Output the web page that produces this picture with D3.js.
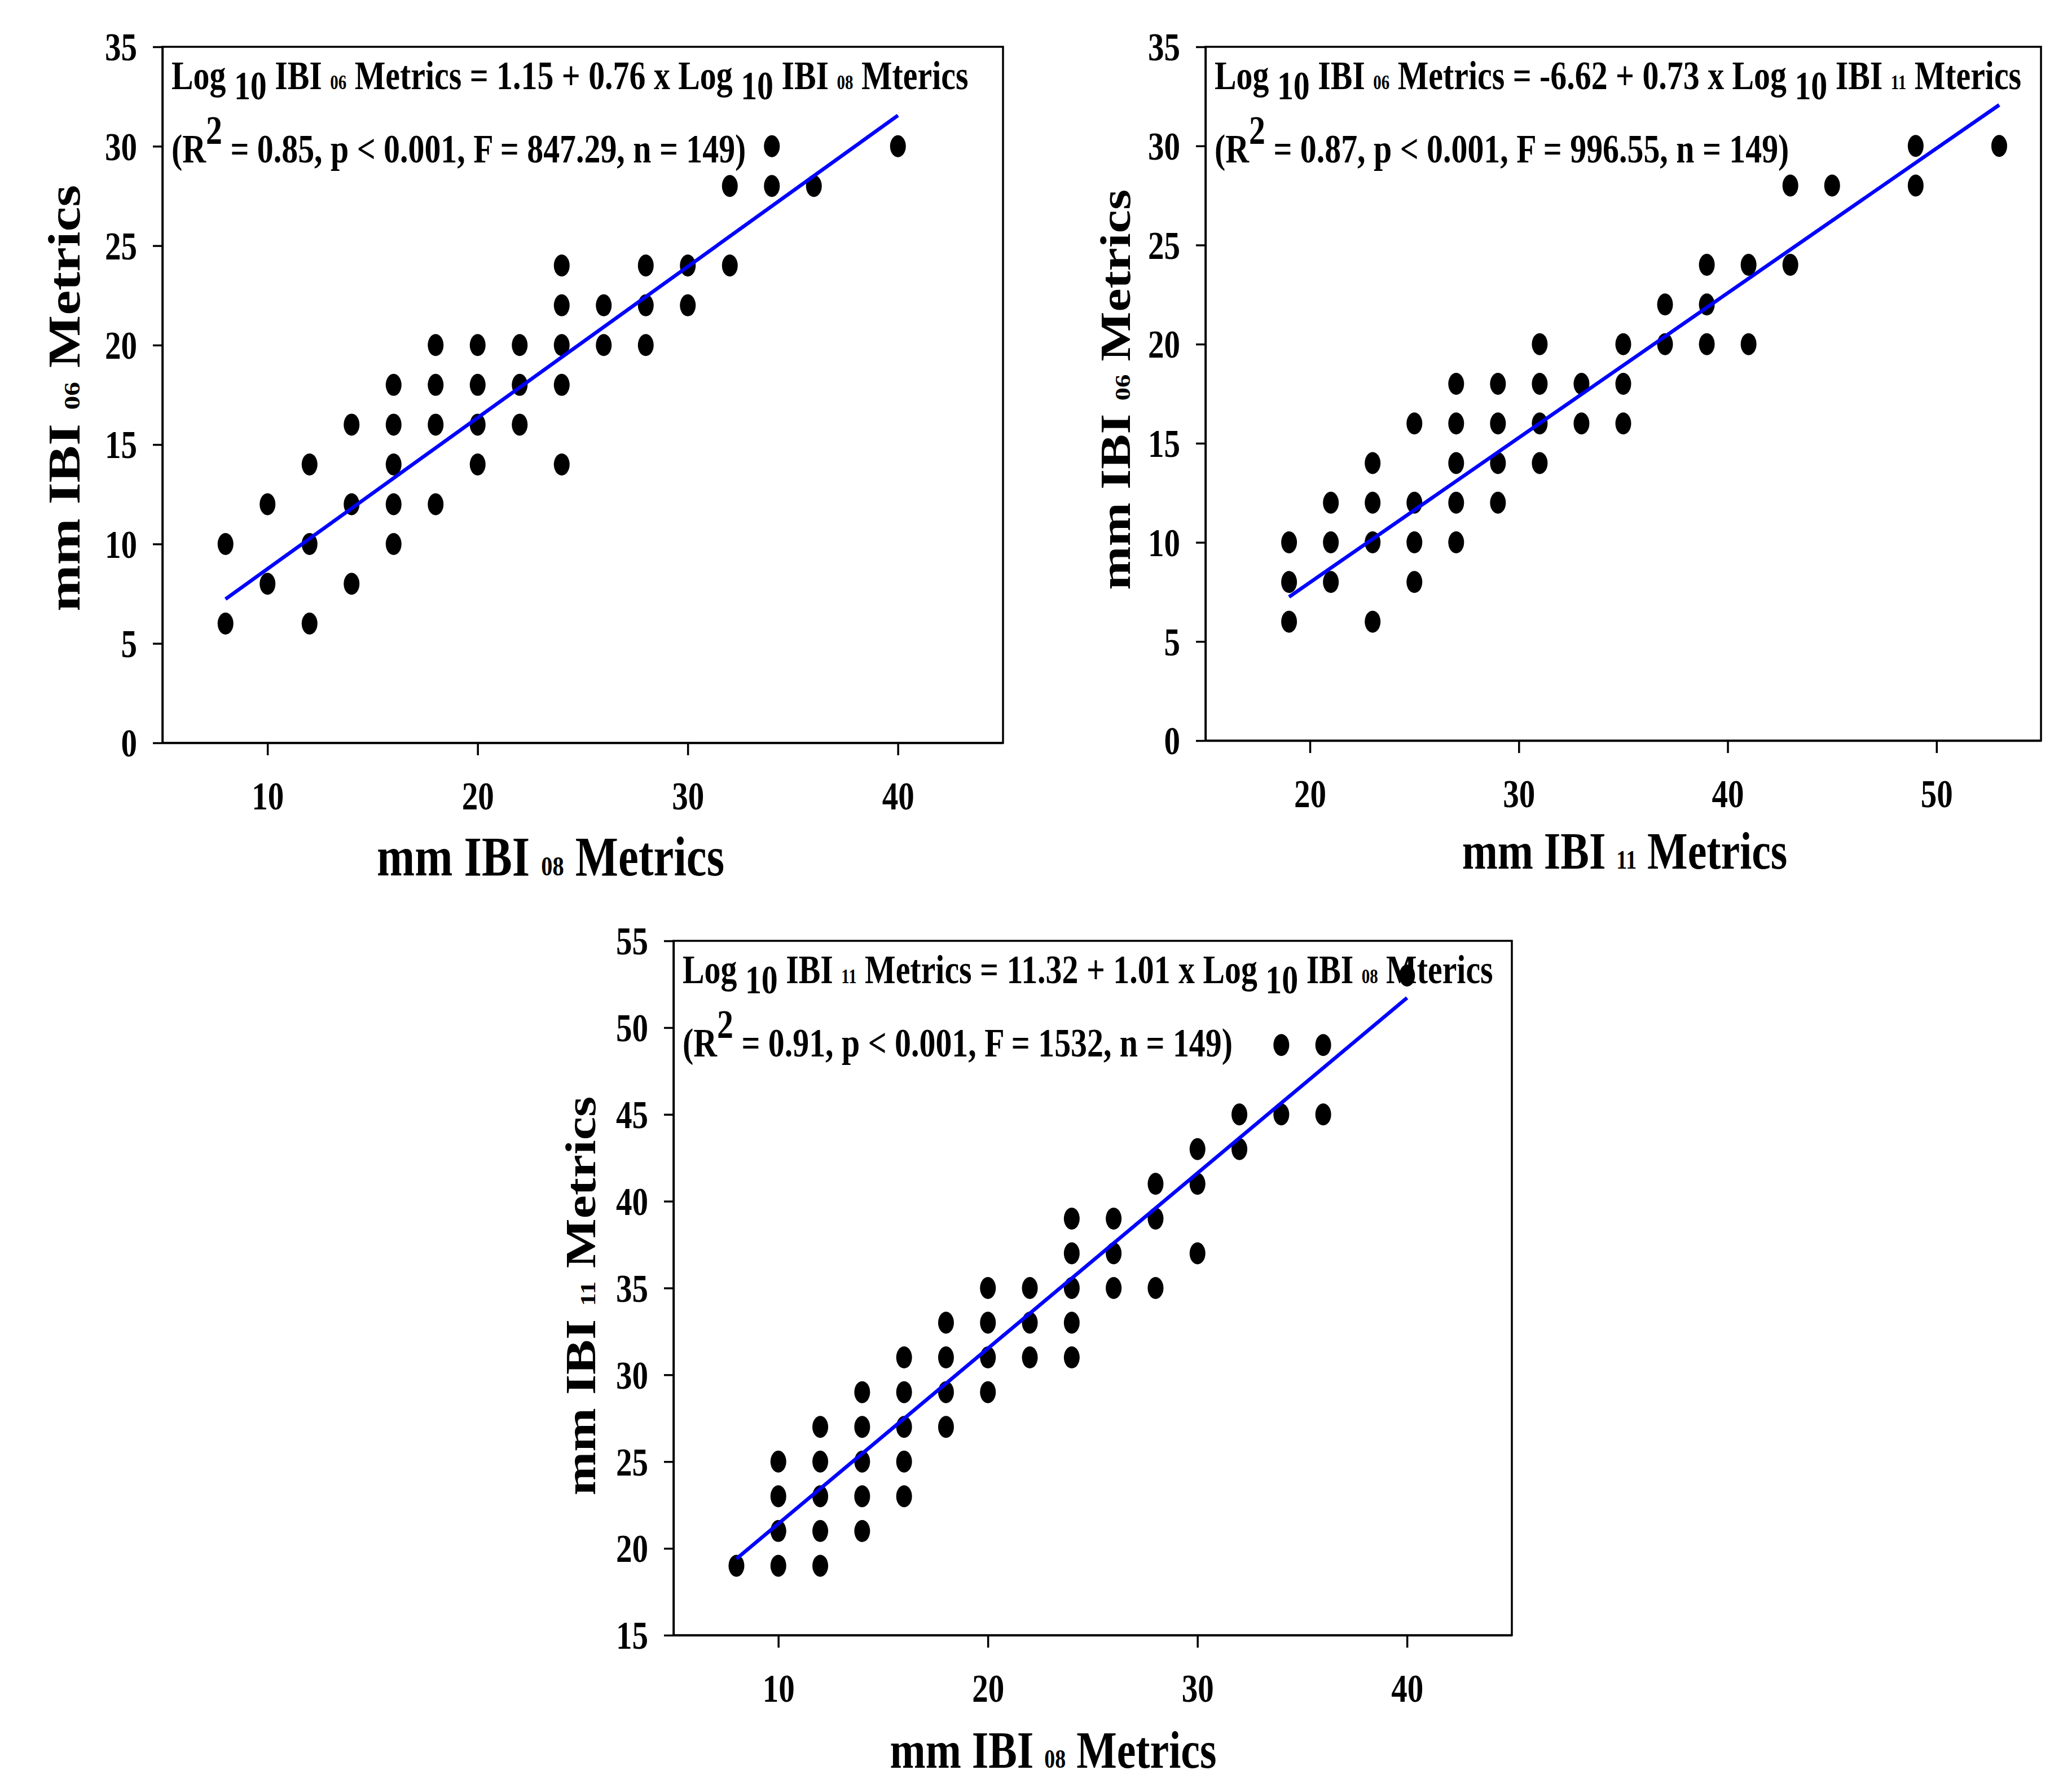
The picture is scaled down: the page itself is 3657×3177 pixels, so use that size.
<!DOCTYPE html>
<html>
<head>
<meta charset="utf-8">
<script src="https://cdn.jsdelivr.net/npm/d3@7"></script>
<style>
  html, body { margin: 0; padding: 0; background: #ffffff; }
  svg text { font-family: "Liberation Serif", "Times New Roman", serif; font-weight: bold; fill: #000; white-space: pre; }
</style>
</head>
<body>
<svg id="chart" width="3657" height="3177"></svg>
<script>
// ---------------- DATA ----------------
// Panel A: mm IBI 08 (x) vs mm IBI 06 (y)
const panelA_x08 = [8,8,10,10,12,12,12,14,14,14,16,16,16,16,16,18,18,18,18,20,20,20,20,22,22,22,24,24,24,24,24,26,26,28,28,28,30,30,32,32,34,34,36,40];
const panelA_y06 = [10,6,12,8,14,10,6,16,12,8,18,16,14,12,10,20,18,16,12,20,18,16,14,20,18,16,24,22,20,18,14,22,20,24,22,20,24,22,28,24,30,28,28,30];
// Panel B: mm IBI 11 (x) vs mm IBI 06 (y)
const panelB_x11 = [19,19,19,21,21,21,23,23,23,23,25,25,25,25,27,27,27,27,27,29,29,29,29,31,31,31,31,33,33,35,35,35,37,37,39,39,39,41,41,43,43,45,49,49,53];
const panelB_y06 = [10,8,6,12,10,8,14,12,10,6,16,12,10,8,18,16,14,12,10,18,16,14,12,20,18,16,14,18,16,20,18,16,22,20,24,22,20,24,20,28,24,28,30,28,30];
// Panel C: mm IBI 08 (x) vs mm IBI 11 (y)
const panelC_x08 = [8,10,10,10,10,12,12,12,12,12,14,14,14,14,14,16,16,16,16,16,18,18,18,18,20,20,20,20,22,22,22,24,24,24,24,24,26,26,26,28,28,28,30,30,30,32,32,34,34,36,36,40];
const panelC_y11 = [19,25,23,21,19,27,25,23,21,19,29,27,25,23,21,31,29,27,25,23,33,31,29,27,35,33,31,29,35,33,31,39,37,35,33,31,39,37,35,41,39,35,43,41,37,45,43,49,45,49,45,53];

// regression: intercept, slope, fitted x-range
const fitIntercepts = [1.15, -6.62, 11.32];
const fitSlopes = [0.76, 0.73, 1.01];
const fitRanges = [[8, 40], [19, 53], [8, 40]];

// axes
const xDomains = [[5, 45], [15, 55], [5, 45]];
const yDomains = [[0, 35], [0, 35], [15, 55]];
const xTickValues = [[10, 20, 30, 40], [20, 30, 40, 50], [10, 20, 30, 40]];
const yTickValues = [[0,5,10,15,20,25,30,35], [0,5,10,15,20,25,30,35], [15,20,25,30,35,40,45,50,55]];

// labels
const xTitles = [["mm IBI ", "08", " Metrics"], ["mm IBI ", "11", " Metrics"], ["mm IBI ", "08", " Metrics"]];
const yTitles = [["mm IBI ", "06", " Metrics"], ["mm IBI ", "06", " Metrics"], ["mm IBI ", "11", " Metrics"]];
const eqLine1 = [
  [["Log ","n"],["10","sub"],[" IBI ","n"],["06","sm"],[" Metrics = 1.15 + 0.76 x Log ","n"],["10","sub"],[" IBI ","n"],["08","sm"],[" Mterics","n"]],
  [["Log ","n"],["10","sub"],[" IBI ","n"],["06","sm"],[" Metrics = -6.62 + 0.73 x Log ","n"],["10","sub"],[" IBI ","n"],["11","sm"],[" Mterics","n"]],
  [["Log ","n"],["10","sub"],[" IBI ","n"],["11","sm"],[" Metrics = 11.32 + 1.01 x Log ","n"],["10","sub"],[" IBI ","n"],["08","sm"],[" Mterics","n"]]
];
const eqLine2 = [
  [["(R","n"],["2","sup"],[" = 0.85, p < 0.001, F = 847.29, n = 149)","n"]],
  [["(R","n"],["2","sup"],[" = 0.87, p < 0.001, F = 996.55, n = 149)","n"]],
  [["(R","n"],["2","sup"],[" = 0.91, p < 0.001, F = 1532, n = 149)","n"]]
];

const panelXs = [panelA_x08, panelB_x11, panelC_x08];
const panelYs = [panelA_y06, panelB_y06, panelC_y11];

// ---------------- LAYOUT (pixels) ----------------
const K = 0.815; // horizontal condensation of the original figure
const layouts = [
  {left: 288,  right: 1778, top: 83,   bottom: 1317, xtX: 976,  xtY: 1552, ytOff: 147, ytDy: 6,  titleSize: 99},
  {left: 2137, right: 3618, top: 83,   bottom: 1313, xtX: 2880, xtY: 1540, ytOff: 134, ytDy: -7, titleSize: 93},
  {left: 1194, right: 2680, top: 1668, bottom: 2899, xtX: 1867, xtY: 3134, ytOff: 139, ytDy: 14, titleSize: 93}
];

const svg = d3.select("#chart");
svg.append("rect").attr("width", 3657).attr("height", 3177).attr("fill", "#fff");
const root = svg.append("g").attr("transform", `scale(${K},1)`);
const u = v => v / K;

const TICK_FS = 70, EQ_FS = 71;

function writeSegments(textSel, segs, fs) {
  let shift = 0;
  segs.forEach(([t, kind]) => {
    const ts = textSel.append("tspan").text(t);
    let target = 0, size = fs;
    if (kind === "sub") target = 18;
    else if (kind === "sup") target = -33;
    else if (kind === "sm") size = fs * 0.5;
    ts.attr("font-size", size);
    if (target !== shift) { ts.attr("dy", target - shift); shift = target; }
  });
}

layouts.forEach((L, i) => {
  const g = root.append("g");
  const x = d3.scaleLinear().domain(xDomains[i]).range([u(L.left), u(L.right)]);
  const y = d3.scaleLinear().domain(yDomains[i]).range([L.bottom, L.top]);

  // frame
  g.append("rect")
    .attr("x", u(L.left)).attr("y", L.top)
    .attr("width", u(L.right) - u(L.left)).attr("height", L.bottom - L.top)
    .attr("fill", "none").attr("stroke", "#000").attr("stroke-width", 3.5)
    .attr("vector-effect", "non-scaling-stroke");

  // axes
  const ax = g.append("g").attr("transform", `translate(0,${L.bottom})`)
    .call(d3.axisBottom(x).tickValues(xTickValues[i]).tickSize(22).tickSizeOuter(0).tickPadding(46).tickFormat(d3.format("d")));
  const ay = g.append("g").attr("transform", `translate(${u(L.left)},0)`)
    .call(d3.axisLeft(y).tickValues(yTickValues[i]).tickSize(u(17)).tickSizeOuter(0).tickPadding(u(28)).tickFormat(d3.format("d")));
  [ax, ay].forEach(a => {
    a.attr("font-family", null);
    a.selectAll("path, line").attr("stroke", "#000").attr("stroke-width", 3.5).attr("vector-effect", "non-scaling-stroke");
    a.selectAll("text").attr("font-size", TICK_FS).attr("fill", "#000")
      .style("font-family", '"Liberation Serif", "Times New Roman", serif').style("font-weight", "bold");
  });
  ay.selectAll(".tick text").attr("dy", "0.34em");

  // equation text
  const t1 = g.append("text").attr("x", u(L.left + 16)).attr("y", L.top + 75);
  writeSegments(t1, eqLine1[i], EQ_FS);
  const t2 = g.append("text").attr("x", u(L.left + 16)).attr("y", L.top + 205);
  writeSegments(t2, eqLine2[i], EQ_FS);

  // points
  const pts = panelXs[i].map((v, j) => [v, panelYs[i][j]]);
  g.append("g").selectAll("ellipse").data(pts).join("ellipse")
    .attr("cx", d => x(d[0])).attr("cy", d => y(d[1]))
    .attr("rx", u(14)).attr("ry", 19.5).attr("fill", "#000");

  // regression line
  const fit = fitRanges[i].map(xv => [xv, fitIntercepts[i] + fitSlopes[i] * xv]);
  g.append("path").datum(fit)
    .attr("d", d3.line().x(d => x(d[0])).y(d => y(d[1])))
    .attr("fill", "none").attr("stroke", "#0000ff").attr("stroke-width", 6.5)
    .attr("vector-effect", "non-scaling-stroke");

  // x title
  const xt = g.append("text").attr("x", u(L.xtX)).attr("y", L.xtY).attr("text-anchor", "middle");
  writeSegments(xt, xTitles[i].map(t => [t, "n"]), L.titleSize);
  xt.selectAll("tspan").filter((d, k) => k === 1).attr("font-size", L.titleSize * 0.5);

  // y title
  const cy = (L.top + L.bottom) / 2 + L.ytDy;
  const yt = g.append("text").attr("text-anchor", "middle")
    .attr("transform", `translate(${u(L.left - L.ytOff)},${cy}) rotate(-90)`);
  writeSegments(yt, yTitles[i].map(t => [t, "n"]), L.titleSize);
  yt.selectAll("tspan").filter((d, k) => k === 1).attr("font-size", L.titleSize * 0.5);
});
</script>
</body>
</html>
